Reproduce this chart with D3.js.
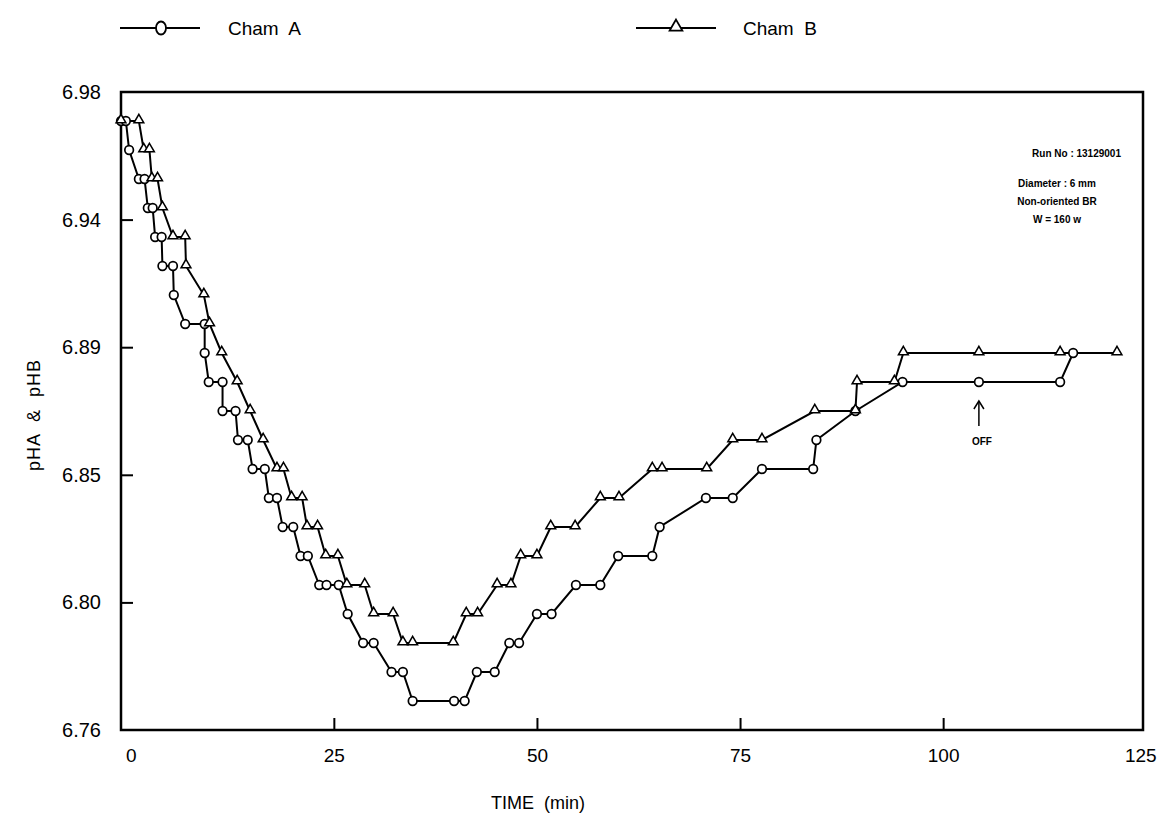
<!DOCTYPE html>
<html>
<head>
<meta charset="utf-8">
<script src="https://cdn.jsdelivr.net/npm/d3@7"></script>
<style>
  body { margin: 0; background: #fff; }
  text { font-family: "Liberation Sans", Arial, sans-serif; fill: #000; }
</style>
</head>
<body>
<div id="grafico"></div>
<script>
// Datos: [tiempo (min), pH]
const chamA = [
  [-1.2, 6.97], [-0.6, 6.97], [-0.2, 6.96], [1.0, 6.95], [1.7, 6.95], [2.1, 6.94], [2.7, 6.94],
  [3.0, 6.93], [3.8, 6.93], [3.9, 6.92], [5.2, 6.92], [5.3, 6.91], [6.7, 6.90], [9.1, 6.90],
  [9.1, 6.89], [9.6, 6.88], [11.3, 6.88], [11.3, 6.87], [12.9, 6.87], [13.2, 6.86], [14.4, 6.86],
  [15.0, 6.85], [16.5, 6.85], [17.0, 6.84], [18.0, 6.84], [18.7, 6.83], [20.0, 6.83], [20.9, 6.82],
  [21.8, 6.82], [23.2, 6.81], [24.1, 6.81], [25.6, 6.81], [26.7, 6.80], [28.6, 6.79], [29.9, 6.79],
  [32.1, 6.78], [33.5, 6.78], [34.7, 6.77], [39.8, 6.77], [41.1, 6.77], [42.6, 6.78], [44.8, 6.78],
  [46.6, 6.79], [47.8, 6.79], [50.0, 6.80], [51.8, 6.80], [54.8, 6.81], [57.8, 6.81], [60.0, 6.82],
  [64.2, 6.82], [65.1, 6.83], [70.8, 6.84], [74.1, 6.84], [77.7, 6.85], [84.0, 6.85], [84.4, 6.86],
  [89.2, 6.87], [95.0, 6.88], [104.4, 6.88], [114.4, 6.88], [116.0, 6.89]
];
const chamB = [
  [-1.2, 6.97], [1.0, 6.97], [1.6, 6.96], [2.3, 6.96], [2.6, 6.95], [3.3, 6.95], [3.9, 6.94],
  [5.2, 6.93], [6.7, 6.93], [6.8, 6.92], [9.0, 6.91], [9.7, 6.90], [11.2, 6.89], [13.1, 6.88],
  [14.7, 6.87], [16.3, 6.86], [18.0, 6.85], [18.8, 6.85], [19.8, 6.84], [21.1, 6.84], [21.7, 6.83],
  [23.0, 6.83], [24.0, 6.82], [25.5, 6.82], [26.6, 6.81], [28.8, 6.81], [29.9, 6.80], [32.3, 6.80],
  [33.5, 6.79], [34.7, 6.79], [39.7, 6.79], [41.3, 6.80], [42.7, 6.80], [45.1, 6.81], [46.8, 6.81],
  [48.0, 6.82], [50.0, 6.82], [51.7, 6.83], [54.7, 6.83], [57.8, 6.84], [60.1, 6.84], [64.2, 6.85],
  [65.4, 6.85], [70.9, 6.85], [74.1, 6.86], [77.7, 6.86], [84.2, 6.87], [89.2, 6.87], [89.4, 6.88],
  [94.0, 6.88], [95.1, 6.89], [104.4, 6.89], [114.4, 6.89], [121.4, 6.89]
];
const series = ["Cham  A", "Cham  B"];
const xTicks = [0, 25, 50, 75, 100, 125];
const yTicks = [6.76, 6.804, 6.848, 6.892, 6.936, 6.98];
const infoLines = ["Diameter : 6 mm", "Non-oriented BR", "W = 160 w"];
const runNo = "Run No : 13129001";
const offTime = 104.4;

const width = 1161;
const height = 816;

const svg = d3.select("#grafico")
  .append("svg")
  .attr("width", width)
  .attr("height", height);

const x = d3.scaleLinear().domain([-1.2, 124.6]).range([121, 1143]);
const y = d3.scaleLinear().domain([6.76, 6.98]).range([730, 92]);

// Ejes
const xAxis = svg.append("g")
  .attr("transform", `translate(0, ${y(6.76)})`)
  .call(d3.axisBottom(x).tickValues(xTicks).tickSize(-12).tickSizeOuter(0).tickPadding(19));
xAxis.select(".domain").remove();
xAxis.selectAll(".tick line")
  .attr("stroke", "#000").attr("stroke-width", 2)
  .filter(d => d === 0 || d === 125).remove();
xAxis.selectAll(".tick text")
  .style("font-size", "19px")
  .attr("dx", d => d === 125 ? -6 : 0);

const yAxis = svg.append("g")
  .attr("transform", `translate(${x(-1.2)}, 0)`)
  .call(d3.axisLeft(y).tickValues(yTicks).tickFormat(d3.format(".2f")).tickSize(-12).tickSizeOuter(0).tickPadding(20));
yAxis.select(".domain").remove();
yAxis.selectAll(".tick line")
  .attr("stroke", "#000").attr("stroke-width", 2)
  .filter(d => d === 6.76 || d === 6.98).remove();
yAxis.selectAll(".tick text").style("font-size", "20px");

// Marco
svg.append("rect")
  .attr("x", x(-1.2))
  .attr("y", y(6.98))
  .attr("width", x(124.6) - x(-1.2))
  .attr("height", y(6.76) - y(6.98))
  .attr("fill", "none")
  .attr("stroke", "#000")
  .attr("stroke-width", 2.5);

const line = d3.line().x(d => x(d[0])).y(d => y(d[1]));

[chamA, chamB].forEach(data => {
  svg.append("path")
    .datum(data)
    .attr("d", line)
    .attr("fill", "none")
    .attr("stroke", "#000")
    .attr("stroke-width", 2);
});

const tri = d3.symbol().type(d3.symbolTriangle).size(42);

svg.append("g").selectAll("circle")
  .data(chamA)
  .enter()
  .append("circle")
  .attr("cx", d => x(d[0]))
  .attr("cy", d => y(d[1]))
  .attr("r", 4.3)
  .attr("fill", "#fff")
  .attr("stroke", "#000")
  .attr("stroke-width", 1.7);

svg.append("g").selectAll("path")
  .data(chamB)
  .enter()
  .append("path")
  .attr("d", tri)
  .attr("transform", d => `translate(${x(d[0])}, ${y(d[1]) - 1})`)
  .attr("fill", "#fff")
  .attr("stroke", "#000")
  .attr("stroke-width", 1.5);

// Leyenda
const legend = svg.append("g");
[[120, 228], [636, 743]].forEach((pos, i) => {
  const g = legend.append("g");
  g.append("line")
    .attr("x1", pos[0]).attr("x2", pos[0] + 80)
    .attr("y1", 28).attr("y2", 28)
    .attr("stroke", "#000").attr("stroke-width", 1.8);
  if (i === 0) {
    g.append("ellipse")
      .attr("cx", pos[0] + 41).attr("cy", 28)
      .attr("rx", 5).attr("ry", 6.5)
      .attr("fill", "#fff").attr("stroke", "#000").attr("stroke-width", 1.8);
  } else {
    g.append("path")
      .attr("d", d3.symbol().type(d3.symbolTriangle).size(70))
      .attr("transform", `translate(${pos[0] + 40}, 27)`)
      .attr("fill", "#fff").attr("stroke", "#000").attr("stroke-width", 1.8);
  }
  g.append("text")
    .attr("x", pos[1]).attr("y", 35)
    .style("font-size", "19px")
    .style("white-space", "pre")
    .text(series[i]);
});

// Textos informativos
svg.append("text")
  .attr("x", 1121).attr("y", 157)
  .attr("text-anchor", "end")
  .style("font-size", "10px").style("font-weight", "bold")
  .text(runNo);

infoLines.forEach((t, i) => {
  svg.append("text")
    .attr("x", 1057).attr("y", 187 + i * 18)
    .attr("text-anchor", "middle")
    .style("font-size", "10px").style("font-weight", "bold")
    .text(t);
});

// Flecha OFF
const offX = x(offTime);
svg.append("line")
  .attr("x1", offX).attr("x2", offX)
  .attr("y1", 402).attr("y2", 426)
  .attr("stroke", "#000").attr("stroke-width", 1.5);
svg.append("path")
  .attr("d", `M${offX - 5},${409} L${offX},${401} L${offX + 5},${409}`)
  .attr("fill", "none").attr("stroke", "#000").attr("stroke-width", 1.5);
svg.append("text")
  .attr("x", offX + 3).attr("y", 445)
  .attr("text-anchor", "middle")
  .style("font-size", "10px").style("font-weight", "bold")
  .text("OFF");

// Titulos de ejes
svg.append("text")
  .attr("x", 538).attr("y", 809)
  .attr("text-anchor", "middle")
  .style("font-size", "18px")
  .style("white-space", "pre")
  .text("TIME  (min)");

svg.append("text")
  .attr("transform", "translate(40, 415) rotate(-90)")
  .attr("text-anchor", "middle")
  .style("font-size", "18px")
  .style("letter-spacing", "1px")
  .style("white-space", "pre")
  .text("pHA  &  pHB");
</script>
</body>
</html>
